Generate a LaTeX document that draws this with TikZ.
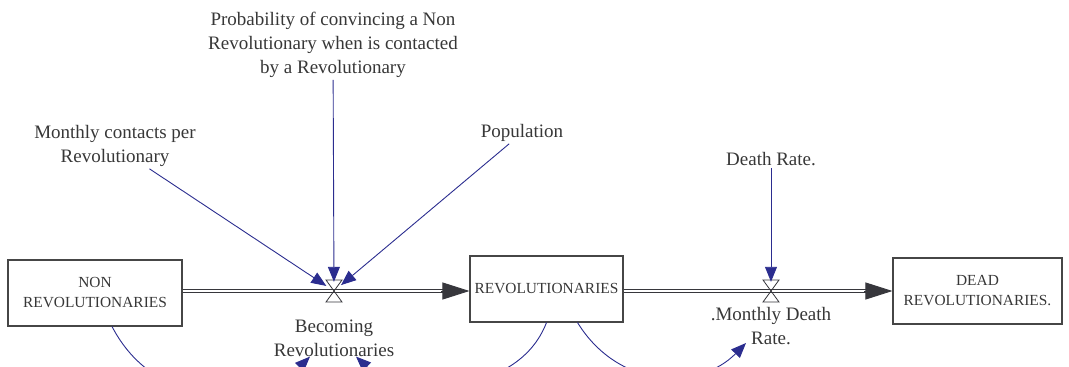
\documentclass[tikz,border=0pt]{standalone}
\usepackage{fontspec}
\setmainfont{Liberation Serif}
\usetikzlibrary{arrows.meta,calc,positioning}
\definecolor{linkblue}{RGB}{43,45,143}
\definecolor{boxgray}{RGB}{70,70,70}
\definecolor{textgray}{RGB}{55,55,55}
\definecolor{pipegray}{RGB}{55,55,60}
\tikzset{
    stock/.style = {draw=boxgray, rectangle, line width=1.1pt,
        minimum height=66pt, text=textgray, align=center,
        font=\fontsize{15.4}{20}\selectfont},
    aux/.style = {text=textgray, align=center, inner sep=2pt,
        font=\fontsize{19}{24}\selectfont},
    valve/.style = {circle, minimum size=18pt, inner sep=0pt},
    link/.style = {draw=linkblue, line width=0.9pt,
        -{Triangle[length=15pt,width=12pt]}},
    pipe/.style = {draw=pipegray, line width=0.9pt, double=white,
        double distance=2.6pt},
    pipetip/.style = {pipegray, line width=0.9pt,
        -{Triangle[length=27pt,width=17pt]}},
}

\begin{document}
\begin{tikzpicture}[x=1pt,y=-1pt]
		\useasboundingbox (0,0) rectangle (1069,367);
		\clip (0,0) rectangle (1069,367);
		% stocks
		\node [stock, minimum width=174pt] (nonrev) at (95,293) {NON\\REVOLUTIONARIES};
		\node [stock, minimum width=153pt] (rev) at (546.5,289) {REVOLUTIONARIES};
		\node [stock, minimum width=169pt] (deadrev) at (977.5,291) {DEAD\\REVOLUTIONARIES.};
		% valves
		\node [valve] (becomingvalve) at (334,291) {};
		\node [valve] (deathvalve) at (771,291) {};
		% flow names
		\node [aux] (becoming) at (334,338) {Becoming\\Revolutionaries};
		\node [aux] (mdrate) at (771,326) {.Monthly Death\\Rate.};
		% constants
		\node [aux] (prob) at (333,45) {Probability of convincing a Non\\Revolutionary when is contacted\\by a Revolutionary};
		\node [aux] (contacts) at (115,146) {Monthly contacts per\\Revolutionary};
		\node [aux] (population) at (522,133) {Population};
		\node [aux] (deathrate) at (771,159) {Death Rate.};
		
		% flow pipes
		\draw [pipe] (nonrev.east |- becomingvalve) -- ($(rev.west |- becomingvalve)+(-20,0)$);
		\draw [pipetip] ($(rev.west |- becomingvalve)+(-28,0)$) -- (rev.west |- becomingvalve);
		\draw [pipe] (rev.east |- deathvalve) -- ($(deadrev.west |- deathvalve)+(-20,0)$);
		\draw [pipetip] ($(deadrev.west |- deathvalve)+(-28,0)$) -- (deadrev.west |- deathvalve);
		\foreach \v in {becomingvalve,deathvalve}
			\draw [pipegray, line width=0.8pt] ($(\v)+(-8,-11)$) -- ($(\v)+(8,-11)$) -- ($(\v)+(-8,11)$) -- ($(\v)+(8,11)$) -- cycle;
		
		% connecting links
		\draw [link] (contacts) -- (becomingvalve);
		\draw [link] (prob) -- (becomingvalve);
		\draw [link] (population) -- (becomingvalve);
		\draw [link] (deathrate) -- (deathvalve);
		\draw [link] ([xshift=17pt]nonrev.south) .. controls +(50,95) and +(-38,38) .. ([xshift=-24pt,yshift=2pt]becoming.south);
		\draw [link] (rev.south) .. controls +(-30,78) and +(40,38) .. ([xshift=22pt,yshift=2pt]becoming.south);
		\draw [link] ([xshift=31pt]rev.south) .. controls +(42,68) and +(-46,47) .. ($(mdrate)+(-25,17)$);
	\end{tikzpicture}
\end{document}
